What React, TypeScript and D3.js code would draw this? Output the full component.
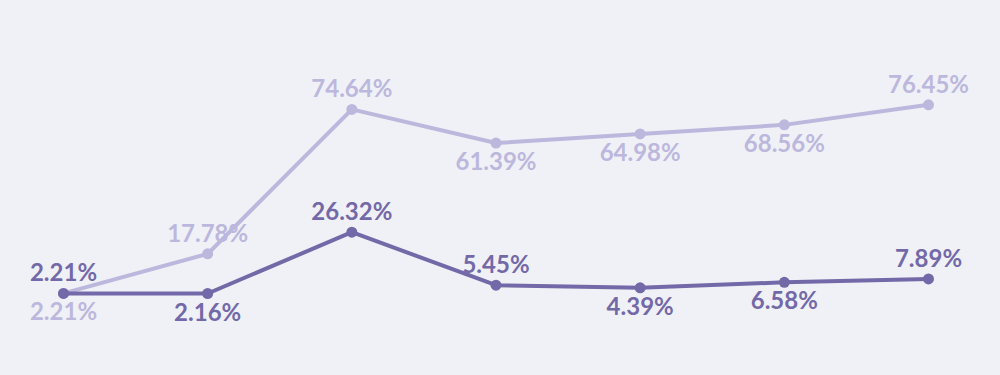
import React from "react";
import * as d3 from "d3";

const categories = ["c1", "c2", "c3", "c4", "c5", "c6", "c7"];
const lightValues = [2.21, 17.78, 74.64, 61.39, 64.98, 68.56, 76.45];
const darkValues = [2.21, 2.16, 26.32, 5.45, 4.39, 6.58, 7.89];
const lightLabelPos = ["below", "above", "above", "below", "below", "below", "above"];
const darkLabelPos = ["above", "below", "above", "above", "below", "below", "above"];

const W = 1000;
const H = 375;
const BG = "#f0f1f6";
const LIGHT = "#bcb7dd";
const DARK = "#7369a8";

export default function App() {
  const x = d3.scalePoint<string>().domain(categories).range([63.5, 928.5]);
  const y = d3.scaleLinear().domain([0, 100]).range([299, 45]);
  const line = d3
    .line<number>()
    .x((_, i) => x(categories[i]) as number)
    .y((d) => y(d));

  const series = [
    { values: lightValues, pos: lightLabelPos, color: LIGHT },
    { values: darkValues, pos: darkLabelPos, color: DARK },
  ];

  return (
    <svg
      width={W}
      height={H}
      style={{ position: "absolute", left: 0, top: 0, display: "block" }}
    >
      <rect width={W} height={H} fill={BG} />
      {series.map((s, si) => (
        <g key={"l" + si}>
          <path d={line(s.values) || ""} fill="none" stroke={s.color} strokeWidth={4} strokeLinejoin="round" />
          {s.values.map((v, i) => (
            <circle key={i} cx={x(categories[i])} cy={y(v)} r={5.5} fill={s.color} />
          ))}
        </g>
      ))}
      {series.map((s, si) => (
        <g key={"t" + si}>
          {s.values.map((v, i) => (
            <text
              key={i}
              x={x(categories[i])}
              y={s.pos[i] === "above" ? y(v) - 12 : y(v) + 27}
              textAnchor="middle"
              fontFamily="Lato, 'Open Sans', sans-serif"
              fontWeight={700}
              fontSize={24}
              fill={s.color}
            >
              {v.toFixed(2) + "%"}
            </text>
          ))}
        </g>
      ))}
    </svg>
  );
}
